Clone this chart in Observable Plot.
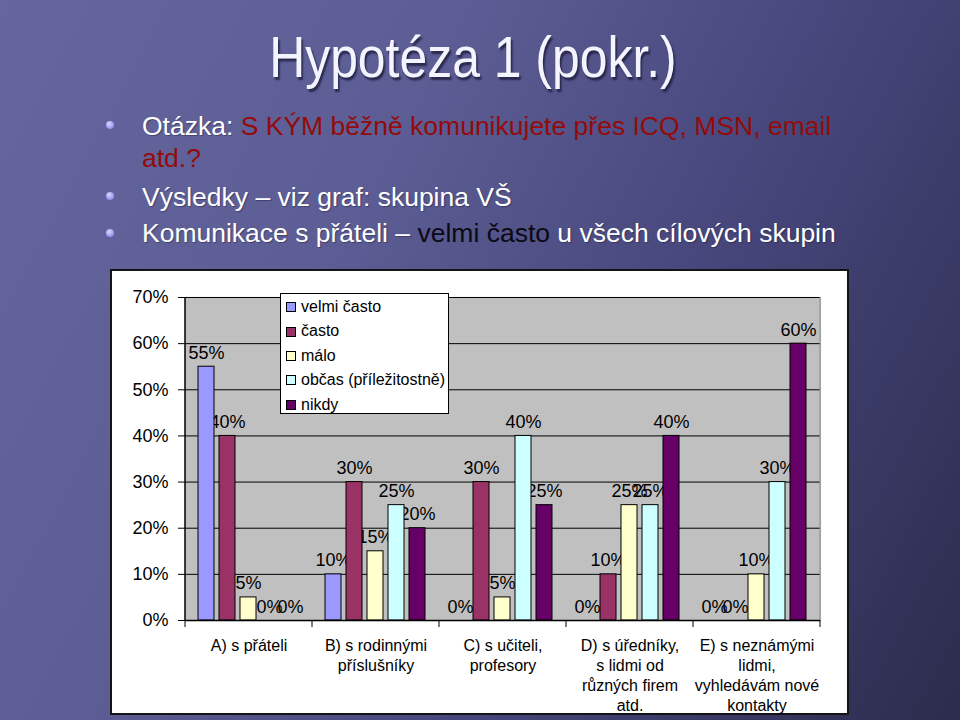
<!DOCTYPE html>
<html>
<head>
<meta charset="utf-8">
<script src="https://cdn.jsdelivr.net/npm/d3@7"></script>
<script src="https://cdn.jsdelivr.net/npm/@observablehq/plot@0.6"></script>
<style>
  html, body { margin: 0; padding: 0; }
  body {
    width: 960px; height: 720px; overflow: hidden; position: relative;
    font-family: "Liberation Sans", Arial, sans-serif;
    background: linear-gradient(118deg, #65669f 0%, #5c5d94 35%, #45457a 65%, #2c2c4d 100%);
  }
  .title {
    position: absolute; left: 0; top: 28px; width: 945px; text-align: center;
    font-size: 58px; line-height: 58px; color: #f4f4ff;
    text-shadow: 2px 3px 2px rgba(20, 20, 50, 0.7);
  }
  .title span { display: inline-block; transform: scaleX(0.86); transform-origin: center; white-space: nowrap; }
  .bullet {
    position: absolute; left: 142px; font-size: 26.5px; line-height: 32px; color: #ffffff;
    white-space: nowrap; text-shadow: 1px 1px 1px rgba(20, 20, 50, 0.4);
  }
  .dot {
    position: absolute; left: 106px; width: 8px; height: 8px; border-radius: 50%;
    background: radial-gradient(circle at 40% 35%, #d8d8ff, #9c9cf0 60%, #7d7dd6);
  }
  .red { color: #930b0b; text-shadow: none; }
  .black { color: #0a0a12; text-shadow: none; }
  #box {
    position: absolute; left: 110px; top: 269px; width: 739px; height: 446px;
    box-sizing: border-box; border: 2px solid #141414; background: #ffffff;
  }
  #chart { position: absolute; left: 0; top: 0; }
  #legend {
    position: absolute; left: 168px; top: 22px; width: 169px; height: 121px;
    box-sizing: border-box; border: 1px solid #000; background: #fff;
    padding-top: 1px; font-size: 16px; color: #000;
  }
  #legend .row { height: 24.4px; line-height: 24.4px; display: flex; align-items: center; white-space: nowrap; }
  #legend .sw { width: 8px; height: 8px; border: 1px solid #000; margin-left: 5px; margin-right: 5px; flex: none; }
</style>
</head>
<body>
<div class="title"><span>Hypotéza 1 (pokr.)</span></div>

<div class="dot" style="top:121px"></div>
<div class="bullet" style="top:110px">Otázka: <span class="red">S KÝM běžně komunikujete přes ICQ, MSN, email<br>atd.?</span></div>

<div class="dot" style="top:192px"></div>
<div class="bullet" style="top:181px">Výsledky – viz graf: skupina VŠ</div>

<div class="dot" style="top:229px"></div>
<div class="bullet" style="top:217px">Komunikace s přáteli – <span class="black">velmi často</span> u všech cílových skupin</div>

<div id="box">
  <div id="chart"></div>
  <div id="legend"></div>
</div>

<script>
// ---- data ----
const categories = [
  "A) s přáteli",
  "B) s rodinnými\npříslušníky",
  "C) s učiteli,\nprofesory",
  "D) s úředníky,\ns lidmi od\nrůzných firem\natd.",
  "E) s neznámými\nlidmi,\nvyhledávám nové\nkontakty"
];
const series = ["velmi často", "často", "málo", "občas (příležitostně)", "nikdy"];
const velmiCasto = [55, 10, 0, 0, 0];
const casto      = [40, 30, 30, 10, 0];
const malo       = [5, 15, 5, 25, 10];
const obcas      = [0, 25, 40, 25, 30];
const nikdy      = [0, 20, 25, 40, 60];
const yTicks = [0, 10, 20, 30, 40, 50, 60, 70];
const colors = ["#9999ff", "#993366", "#ffffcc", "#ccffff", "#660066"];

const seriesValues = [velmiCasto, casto, malo, obcas, nikdy];
const rows = [];
categories.forEach((cat, i) => {
  series.forEach((s, j) => rows.push({cat, series: s, value: seriesValues[j][i]}));
});

const plot = Plot.plot({
  width: 735,
  height: 442,
  marginLeft: 71,
  marginRight: 25,
  marginTop: 26,
  marginBottom: 93,
  style: {fontFamily: "'Liberation Sans', Arial, sans-serif", fontSize: "16px", color: "#000", background: "transparent", overflow: "visible"},
  fx: {domain: categories, padding: 0, label: null},
  x: {domain: series, paddingInner: 0.23, paddingOuter: 0.59, axis: null},
  y: {domain: [0, 70], label: null},
  color: {domain: series, range: colors},
  marks: [
    Plot.frame({fill: "#c0c0c0", stroke: "#c0c0c0", strokeWidth: 1.2}),
    Plot.ruleY(yTicks, {stroke: "#000", strokeWidth: 1}),
    Plot.text(rows, {fx: "cat", x: "series", y: "value", text: d => d.value + "%", lineAnchor: "bottom", dy: -8, fontSize: 18, fill: "#000"}),
    Plot.barY(rows.filter(d => d.value > 0), {fx: "cat", x: "series", y: "value", fill: "series", stroke: "#000", strokeWidth: 1}),
    Plot.ruleY([0], {stroke: "#000", strokeWidth: 1.5}),
    Plot.axisY(yTicks, {tickFormat: d => d + "%", tickSize: 7, tickPadding: 10, fontSize: 18, label: null}),
    Plot.axisFx({anchor: "bottom", tickSize: 0, tickPadding: 16, fontSize: 16, lineHeight: 1.25, label: null})
  ]
});

// axis line, group boundary ticks and plot-area right border from the plot's scales
const fxS = plot.scale("fx");
const yS = plot.scale("y");
const step = (fxS.range[1] - fxS.range[0]) / categories.length;
const fxStart = (c, i) => (typeof fxS.apply === "function" ? fxS.apply(c) : fxS.range[0] + i * step);
const edges = categories.map(fxStart);
edges.push(edges[edges.length - 1] + (fxS.bandwidth || step));
const yApply = v => (typeof yS.apply === "function" ? yS.apply(v) : yS.range[0] + (yS.range[1] - yS.range[0]) * v / 70);
const y0 = yApply(0), yTop = yApply(70);
const svg = d3.select(plot);
const g = svg.append("g").attr("fill", "none");
g.append("line").attr("x1", edges[edges.length - 1]).attr("x2", edges[edges.length - 1])
  .attr("y1", yTop).attr("y2", y0).attr("stroke", "#8a8a8a").attr("stroke-width", 1);
g.append("line").attr("x1", edges[0]).attr("x2", edges[0])
  .attr("y1", yTop).attr("y2", y0 + 0.75).attr("stroke", "#000").attr("stroke-width", 1.5);
edges.forEach(x => g.append("line").attr("x1", x).attr("x2", x).attr("y1", y0).attr("y2", y0 + 7).attr("stroke", "#000").attr("stroke-width", 1));

document.getElementById("chart").appendChild(plot);

// legend
const legend = d3.select("#legend");
series.forEach((s, j) => {
  const r = legend.append("div").attr("class", "row");
  r.append("div").attr("class", "sw").style("background", colors[j]);
  r.append("span").text(s);
});
</script>
</body>
</html>
